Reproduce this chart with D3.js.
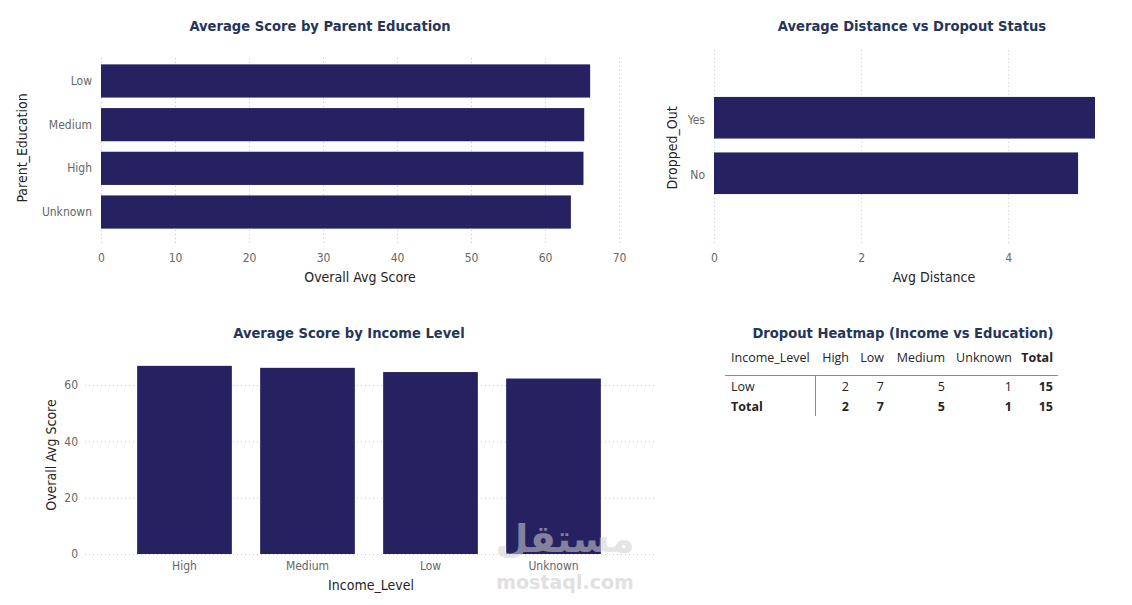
<!DOCTYPE html>
<html><head><meta charset="utf-8">
<script src="https://cdn.jsdelivr.net/npm/d3@7"></script>
<style>
html,body{margin:0;padding:0;background:#fff;}
svg{display:block;}
.title{font-family:"DejaVu Sans Condensed","Liberation Sans Narrow",Roboto,sans-serif;font-weight:bold;font-size:14.6px;fill:#243659;}
.tick text{font-family:"Liberation Sans Narrow","DejaVu Sans Condensed",Roboto,sans-serif;font-size:12px;fill:#666;}
.atitle{font-family:"DejaVu Sans Condensed","Liberation Sans Narrow",Roboto,sans-serif;font-size:14px;fill:#252423;}
.tbl{font-family:"Open Sans","Noto Sans",sans-serif;font-size:12.5px;fill:#252423;}
</style></head>
<body>
<svg id="c" width="1132" height="605"></svg>
<script>
// ---- data ----
const parentEduCats = ["Low","Medium","High","Unknown"];
const parentEduScores = [66.1, 65.3, 65.2, 63.5];

const dropoutCats = ["Yes","No"];
const dropoutDistance = [5.18, 4.95];

const incomeCats = ["High","Medium","Low","Unknown"];
const incomeScores = [66.8, 66.1, 64.6, 62.3];

const heatCols = ["High","Low","Medium","Unknown","Total"];
const heatRowLabels = ["Low","Total"];
const heatLow = [2,7,5,1,15];
const heatTotal = [2,7,5,1,15];

const xTicksParent = [0,10,20,30,40,50,60,70];
const xTicksDistance = [0,2,4];
const yTicksIncome = [0,20,40,60];

const BAR = "#262262";
const svg = d3.select("#c");

function dottedGrid(g){
  g.selectAll(".tick line").attr("stroke","#c8c8c8").attr("stroke-dasharray","1,3").attr("stroke-width",1);
  g.select(".domain").remove();
}

// ---- Chart 1: Average Score by Parent Education ----
{
  const x = d3.scaleLinear().domain([0,70]).range([101,619]);
  const y = d3.scaleBand().domain(parentEduCats).range([60,233]).paddingInner(0.24).paddingOuter(0.1);
  svg.append("text").attr("class","title").attr("x",320).attr("y",31).attr("text-anchor","middle").text("Average Score by Parent Education");
  const gx = svg.append("g").attr("transform","translate(0,243)")
    .call(d3.axisBottom(x).tickValues(xTicksParent).tickSize(-185).tickPadding(10));
  dottedGrid(gx);
  const gy = svg.append("g").attr("transform","translate(101,0)")
    .call(d3.axisLeft(y).tickSize(0).tickPadding(9));
  gy.select(".domain").remove();
  svg.append("g").selectAll("rect").data(parentEduCats).join("rect")
    .attr("x",x(0)).attr("y",d=>y(d)).attr("height",y.bandwidth())
    .attr("width",(d,i)=>x(parentEduScores[i])-x(0)).attr("fill",BAR);
  svg.append("text").attr("class","atitle").attr("x",360).attr("y",282).attr("text-anchor","middle").text("Overall Avg Score");
  svg.append("text").attr("class","atitle").attr("transform","translate(27,148) rotate(-90)").attr("text-anchor","middle").text("Parent_Education");
}

// ---- Chart 2: Average Distance vs Dropout Status ----
{
  const x = d3.scaleLinear().domain([0,5.18]).range([714,1095]);
  const y = d3.scaleBand().domain(dropoutCats).range([90,201]).paddingInner(0.25).paddingOuter(0.125);
  svg.append("text").attr("class","title").attr("x",912).attr("y",31).attr("text-anchor","middle").text("Average Distance vs Dropout Status");
  const gx = svg.append("g").attr("transform","translate(0,243)")
    .call(d3.axisBottom(x).tickValues(xTicksDistance).tickFormat(d3.format("d")).tickSize(-193).tickPadding(10));
  dottedGrid(gx);
  const gy = svg.append("g").attr("transform","translate(714,0)")
    .call(d3.axisLeft(y).tickSize(0).tickPadding(9));
  gy.select(".domain").remove();
  gy.selectAll(".tick text").attr("dy","0.5em");
  svg.append("g").selectAll("rect").data(dropoutCats).join("rect")
    .attr("x",x(0)).attr("y",d=>y(d)).attr("height",y.bandwidth())
    .attr("width",(d,i)=>x(dropoutDistance[i])-x(0)).attr("fill",BAR);
  svg.append("text").attr("class","atitle").attr("x",934).attr("y",282).attr("text-anchor","middle").text("Avg Distance");
  svg.append("text").attr("class","atitle").attr("transform","translate(677,148) rotate(-90)").attr("text-anchor","middle").text("Dropped_Out");
}

// ---- Chart 3: Average Score by Income Level ----
{
  const y = d3.scaleLinear().domain([0,60]).range([554,385]);
  const x = d3.scaleBand().domain(incomeCats).range([85,653]).paddingInner(0.23).paddingOuter(0.424);
  svg.append("text").attr("class","title").attr("x",349).attr("y",338).attr("text-anchor","middle").text("Average Score by Income Level");
  const gy = svg.append("g").attr("transform","translate(85,0)")
    .call(d3.axisLeft(y).tickValues(yTicksIncome).tickSize(-570).tickPadding(7));
  dottedGrid(gy);
  gy.selectAll(".tick line").attr("x1",0);
  svg.append("g").selectAll("rect").data(incomeCats).join("rect")
    .attr("x",d=>x(d)).attr("width",x.bandwidth())
    .attr("y",(d,i)=>y(incomeScores[i])).attr("height",(d,i)=>y(0)-y(incomeScores[i])).attr("fill",BAR);
  const gx = svg.append("g").attr("transform","translate(0,554)")
    .call(d3.axisBottom(x).tickSize(0).tickPadding(7));
  gx.select(".domain").remove();
  svg.append("text").attr("class","atitle").attr("x",371).attr("y",590).attr("text-anchor","middle").text("Income_Level");
  svg.append("text").attr("class","atitle").attr("transform","translate(56,455) rotate(-90)").attr("text-anchor","middle").text("Overall Avg Score");
  // watermark
  const wm = svg.append("g").attr("opacity",0.55);
  wm.append("text").attr("x",565).attr("y",552).attr("text-anchor","middle")
    .attr("font-family","DejaVu Sans, sans-serif").attr("font-weight","bold").attr("font-size",38).attr("fill","#d0d0d0").text("مستقل");
  wm.append("text").attr("x",565).attr("y",589).attr("text-anchor","middle")
    .attr("font-family","DejaVu Sans, sans-serif").attr("font-weight","bold").attr("font-size",19).attr("fill","#c8c8c8").text("mostaql.com");
}

// ---- Table: Dropout Heatmap ----
{
  svg.append("text").attr("class","title").attr("x",903).attr("y",338).attr("text-anchor","middle").text("Dropout Heatmap (Income vs Education)");
  const colRight = [849,884,945,1012,1053];
  const headerY = 362, rowY = [391,411];
  svg.append("text").attr("class","tbl").attr("x",731).attr("y",headerY).text("Income_Level");
  heatCols.forEach((c,i)=>{
    svg.append("text").attr("class","tbl").attr("x",colRight[i]).attr("y",headerY)
      .attr("text-anchor","end").attr("font-weight",c==="Total"?"bold":null).text(c);
  });
  svg.append("line").attr("x1",725).attr("x2",1058).attr("y1",375.5).attr("y2",375.5).attr("stroke","#4aa0c8").attr("stroke-width",1);
  svg.append("line").attr("x1",815.5).attr("x2",815.5).attr("y1",376).attr("y2",416).attr("stroke","#4aa0c8").attr("stroke-width",1);
  const rows = [heatLow, heatTotal];
  heatRowLabels.forEach((lab,r)=>{
    const bold = lab==="Total";
    svg.append("text").attr("class","tbl").attr("x",731).attr("y",rowY[r]).attr("font-weight",bold?"bold":null).text(lab);
    rows[r].forEach((v,i)=>{
      svg.append("text").attr("class","tbl").attr("x",colRight[i]).attr("y",rowY[r])
        .attr("text-anchor","end").attr("font-weight",(bold||i===4)?"bold":null).text(v);
    });
  });
}
</script>
</body></html>
